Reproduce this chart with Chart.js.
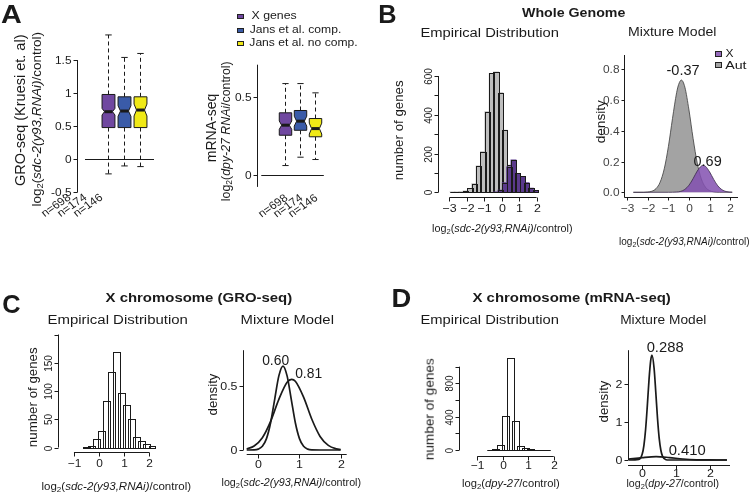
<!DOCTYPE html>
<html>
<head>
<meta charset="utf-8">
<script src="https://cdn.jsdelivr.net/npm/chart.js@4.4.1/dist/chart.umd.min.js"></script>
<style>
html, body { margin: 0; padding: 0; background: #fff; }
#fig { position: relative; width: 750px; height: 492px; overflow: hidden; background: #fff;
  font-family: "Liberation Sans", Arial, Helvetica, sans-serif; color: #1a1a1a; }
#fig canvas { position: absolute; left: 0; top: 0; }
.t { position: absolute; white-space: nowrap; line-height: 1; transform-origin: 50% 50%; }
.t sub { font-size: 0.7em; vertical-align: -0.25em; line-height: 0; }
.sq { position: absolute; border: 1px solid #222; box-sizing: border-box; }
</style>
</head>
<body>
<div id="fig">
  <canvas id="a1" width="750" height="492"></canvas>
  <canvas id="a2" width="750" height="492"></canvas>
  <canvas id="b1" width="750" height="492"></canvas>
  <canvas id="b2" width="750" height="492"></canvas>
  <canvas id="c1" width="750" height="492"></canvas>
  <canvas id="c2" width="750" height="492"></canvas>
  <canvas id="d1" width="750" height="492"></canvas>
  <canvas id="d2" width="750" height="492"></canvas>
</div>
<script>
// ---------- data ----------

// A: boxplots (X genes, Jans et al. comp., Jans et al. no comp.)
const boxGroups = ['X genes', 'Jans et al. comp.', 'Jans et al. no comp.'];
const boxCounts = ['n=698', 'n=174', 'n=146'];

const groLo = [-0.22, -0.10, -0.11];
const groQ1 = [0.48, 0.48, 0.48];
const groMed = [0.72, 0.73, 0.745];
const groQ3 = [0.98, 0.945, 0.945];
const groHi = [1.88, 1.54, 1.60];
const groNotch = [0.05, 0.08, 0.09];
const groTicks = [-0.5, 0, 0.5, 1, 1.5];
const groTickLabels = ['-0.5', '0', '0.5', '1', '1.5'];

const rnaLo = [0.058, 0.112, 0.097];
const rnaQ1 = [0.254, 0.286, 0.244];
const rnaMed = [0.319, 0.345, 0.297];
const rnaQ3 = [0.399, 0.414, 0.362];
const rnaHi = [0.588, 0.588, 0.528];
const rnaNotch = [0.027, 0.032, 0.035];
const rnaTicks = [0, 0.5];
const rnaTickLabels = ['0', '0.5'];

// B: whole genome histogram (bin centres, width 0.25)
const wgBinWidth = 0.25;
const wgBins = [-2.825, -2.575, -2.325, -2.075, -1.825, -1.575, -1.325, -1.075, -0.825, -0.575,
  -0.325, -0.075, 0.175, 0.425, 0.675, 0.925, 1.175, 1.425, 1.675, 1.925];
const wgAutCounts = [2, 2, 4, 8, 20, 45, 136, 210, 416, 613, 622, 514, 321, 140, 60, 25, 10, 5, 3, 2];
const wgXCounts = [null, null, null, null, null, null, null, null, null, null,
  2, 12, 50, 132, 168, 98, 82, 50, 22, 10];
const wgHistXTicks = [-3, -2, -1, 0, 1, 2];
const wgHistXLabels = ['\u22123', '\u22122', '\u22121', '0', '1', '2'];
const wgHistYTicks = [0, 100, 200, 300, 400, 500, 600];
const wgHistYLabels = ['0', '', '200', '', '400', '', '600'];

// B: whole genome mixture model
const wgAutX = [-2.7, -2.2, -2.0, -1.8, -1.6, -1.4, -1.2, -1.0, -0.8, -0.6, -0.5, -0.37, -0.2,
  0.0, 0.2, 0.4, 0.6, 0.8, 1.0, 1.2, 1.5, 2.1];
const wgAutDens = [0, 0, 0.002, 0.007, 0.024, 0.066, 0.153, 0.297, 0.480, 0.648, 0.702, 0.73, 0.684,
  0.535, 0.350, 0.191, 0.087, 0.033, 0.011, 0.003, 0, 0];
const wgXX = [-2.7, -1.0, -0.6, -0.4, -0.2, 0.0, 0.2, 0.4, 0.6, 0.69, 0.8, 1.0, 1.2, 1.4, 1.6, 1.8, 2.1];
const wgXDens = [0, 0, 0.002, 0.006, 0.019, 0.046, 0.089, 0.138, 0.171, 0.175, 0.169, 0.133, 0.084,
  0.042, 0.017, 0.005, 0.001];
const wgMixXTicks = [-3, -2, -1, 0, 1, 2];
const wgMixXLabels = ['\u22123', '\u22122', '\u22121', '0', '1', '2'];
const wgMixYTicks = [0, 0.2, 0.4, 0.6, 0.8];
const wgMixYLabels = ['0.0', '0.2', '0.4', '0.6', '0.8'];

// C: X chromosome GRO-seq histogram (bin width 0.2)
const groBinWidth = 0.2;
const groBins = [-0.5, -0.3, -0.1, 0.1, 0.3, 0.5, 0.7, 0.9, 1.1, 1.3, 1.5, 1.7, 1.9, 2.1];
const groCounts = [1, 3, 15, 29, 83, 134, 169, 97, 76, 50, 18, 11, 6, 2];
const groHistXTicks = [-1, 0, 1, 2];
const groHistXLabels = ['\u22121', '0', '1', '2'];
const groHistYTicks = [0, 50, 100, 150, 200];
const groHistYLabels = ['0', '50', '100', '150', ''];

// C: mixture model curves
const groNarrowX = [-0.28, -0.1, 0.0, 0.1, 0.2, 0.3, 0.4, 0.5, 0.6, 0.7, 0.8, 0.9, 1.0, 1.1, 1.2, 1.3, 1.5, 2.0];
const groNarrowDens = [0, 0.001, 0.007, 0.029, 0.089, 0.213, 0.398, 0.579, 0.656, 0.579, 0.398, 0.213,
  0.089, 0.029, 0.007, 0.001, 0, 0];
const groWideX = [-0.28, -0.1, 0.1, 0.3, 0.5, 0.7, 0.81, 0.9, 1.1, 1.3, 1.5, 1.7, 1.9, 2.0];
const groWideDens = [0.008, 0.031, 0.096, 0.224, 0.396, 0.529, 0.552, 0.537, 0.413, 0.240, 0.106,
  0.036, 0.009, 0.004];
const groMixXTicks = [0, 1, 2];
const groMixXLabels = ['0', '1', '2'];
const groMixYTicks = [0, 0.5];
const groMixYLabels = ['0', '0.5'];

// D: X chromosome mRNA-seq histogram (bin width 0.2)
const rnaBinWidth = 0.2;
const rnaBins = [-0.5, -0.3, -0.1, 0.1, 0.3, 0.5, 0.7, 0.9, 1.1, 1.3, 1.5, 1.7];
const rnaCounts = [3, 12, 60, 408, 1100, 352, 45, 22, 8, 3, 2, 2];
const rnaHistXTicks = [-1, 0, 1, 2];
const rnaHistXLabels = ['\u22121', '0', '1', '2'];
const rnaHistYTicks = [0, 200, 400, 600, 800, 1000];
const rnaHistYLabels = ['0', '', '400', '', '800', ''];

// D: mixture model curves
const rnaNarrowX = [-0.4, -0.1, 0.0, 0.05, 0.1, 0.15, 0.2, 0.25, 0.288, 0.35, 0.4, 0.45, 0.5, 0.55,
  0.6, 0.7, 0.8, 2.5];
const rnaNarrowDens = [0, 0.015, 0.156, 0.388, 0.812, 1.43, 2.117, 2.63, 2.77, 2.42, 1.79, 1.11, 0.58,
  0.257, 0.094, 0.008, 0, 0];
const rnaWideX = [-0.4, 0.0, 0.41, 0.8, 1.2, 1.6, 2.0, 2.5];
const rnaWideDens = [0.024, 0.064, 0.09, 0.064, 0.026, 0.005, 0.001, 0];
const rnaMixXTicks = [0, 1, 2];
const rnaMixXLabels = ['0', '1', '2'];
const rnaMixYTicks = [0, 1, 2];
const rnaMixYLabels = ['0', '1', '2'];

// ---------- styling ----------
const INK = '#1a1a1a';
const FONT = '"Liberation Sans", Arial, Helvetica, sans-serif';
const SX = 1.08;  // the figure is slightly wider than tall
const boxColors = ['#7048a0', '#3a5ba8', '#f0e916'];
const mixPurple = 'rgba(131, 80, 176, 0.85)';
const mixGray = '#a3a3a3';

Chart.defaults.font.family = FONT;

function drawText(ctx, s, x, y, size, rot, align, color) {
  ctx.save();
  ctx.translate(x, y);
  ctx.scale(SX, 1);
  ctx.rotate(rot || 0);
  ctx.font = size + 'px ' + FONT;
  ctx.fillStyle = color || INK;
  ctx.textAlign = align || 'center';
  ctx.textBaseline = 'middle';
  ctx.fillText(s, 0, 0);
  ctx.restore();
}

function seg(ctx, x1, y1, x2, y2) {
  ctx.beginPath();
  ctx.moveTo(x1, y1);
  ctx.lineTo(x2, y2);
  ctx.stroke();
}

// R style axes drawn from the chart's own scales
function rAxes(cfg) {
  return {
    id: 'rAxes',
    afterDraw(chart) {
      const { ctx, chartArea: ca, scales } = chart;
      ctx.save();
      ctx.lineWidth = cfg.lw || 1;
      ctx.strokeStyle = cfg.line || INK;
      const ax = cfg.x;
      if (ax) {
        const sx = scales.x;
        const ly = Math.round(ca.bottom + ax.gap) + 0.5;
        seg(ctx, sx.getPixelForValue(ax.from), ly, sx.getPixelForValue(ax.to), ly);
        ax.ticks.forEach((v, i) => {
          const px = Math.round(sx.getPixelForValue(v)) + 0.5;
          seg(ctx, px, ly, px, ly + ax.tickLen);
          if (ax.labels[i]) drawText(ctx, ax.labels[i], px, ly + ax.labelGap, ax.font, 0, 'center', cfg.text);
        });
      }
      const ay = cfg.y;
      if (ay) {
        const sy = scales.y;
        const lx = Math.round(ca.left - ay.gap) + 0.5;
        seg(ctx, lx, sy.getPixelForValue(ay.from), lx, sy.getPixelForValue(ay.to));
        ay.ticks.forEach((v, i) => {
          const py = Math.round(sy.getPixelForValue(v)) + 0.5;
          seg(ctx, lx - ay.tickLen, py, lx, py);
          if (!ay.labels[i]) return;
          if (ay.rotate) drawText(ctx, ay.labels[i], lx - ay.labelGap, py, ay.font, -Math.PI / 2, 'center', cfg.text);
          else drawText(ctx, ay.labels[i], lx - ay.labelGap, py, ay.font, 0, 'right', cfg.text);
        });
      }
      ctx.restore();
    }
  };
}

// crisp 1px outline around every histogram bar, after its own dataset is drawn
const barOutline = {
  id: 'barOutline',
  afterDatasetDraw(chart, args) {
    const meta = args.meta;
    if (meta.type !== 'bar') return;
    const ctx = chart.ctx;
    ctx.save();
    ctx.strokeStyle = INK;
    ctx.lineWidth = 1;
    meta.data.forEach((el, i) => {
      const v = meta._parsed[i] && meta._parsed[i].y;
      if (v === null || v === undefined || isNaN(v)) return;
      const l = Math.round(el.x - el.width / 2) + 0.5;
      const r = Math.round(el.x + el.width / 2) + 0.5;
      const t = Math.round(el.y) + 0.5;
      const b = Math.round(el.base) + 0.5;
      ctx.strokeRect(l, t, r - l, b - t);
    });
    ctx.restore();
  }
};

// notched boxplots, positioned at x = 1, 2, 3
function notchedBoxes(b) {
  return {
    id: 'notchedBoxes',
    afterDatasetsDraw(chart) {
      const { ctx, chartArea: ca, scales: { x, y } } = chart;
      ctx.save();
      ctx.strokeStyle = INK;
      ctx.lineWidth = 1;
      const y0 = Math.round(y.getPixelForValue(0)) + 0.5;
      seg(ctx, x.getPixelForValue(b.zero[0]), y0, x.getPixelForValue(b.zero[1]), y0);
      b.q1.forEach((q1, i) => {
        const p = i + 1;
        const cx = Math.round(x.getPixelForValue(p)) + 0.5;
        const hw = (x.getPixelForValue(p + b.width / 2) - x.getPixelForValue(p - b.width / 2)) / 2;
        const inner = hw * 0.62;
        const yQ1 = y.getPixelForValue(q1);
        const yQ3 = y.getPixelForValue(b.q3[i]);
        const yMed = y.getPixelForValue(b.med[i]);
        const yNl = y.getPixelForValue(b.med[i] - b.notch[i]);
        const yNh = y.getPixelForValue(b.med[i] + b.notch[i]);
        const yHi = y.getPixelForValue(b.hi[i]);
        const yLo = y.getPixelForValue(b.lo[i]);
        ctx.setLineDash([4, 3]);
        seg(ctx, cx, yQ3, cx, yHi);
        seg(ctx, cx, yQ1, cx, yLo);
        ctx.setLineDash([]);
        seg(ctx, cx - hw / 2, yHi, cx + hw / 2, yHi);
        seg(ctx, cx - hw / 2, yLo, cx + hw / 2, yLo);
        ctx.beginPath();
        ctx.moveTo(cx - hw, yQ3);
        ctx.lineTo(cx + hw, yQ3);
        ctx.lineTo(cx + hw, yNh);
        ctx.lineTo(cx + inner, yMed);
        ctx.lineTo(cx + hw, yNl);
        ctx.lineTo(cx + hw, yQ1);
        ctx.lineTo(cx - hw, yQ1);
        ctx.lineTo(cx - hw, yNl);
        ctx.lineTo(cx - inner, yMed);
        ctx.lineTo(cx - hw, yNh);
        ctx.closePath();
        ctx.fillStyle = boxColors[i];
        ctx.fill();
        ctx.stroke();
        ctx.lineWidth = 3;
        seg(ctx, cx - inner, yMed, cx + inner, yMed);
        ctx.lineWidth = 1;
        drawText(ctx, boxCounts[i], cx + b.labDx, ca.bottom + b.labDy, 11, -0.64, 'right');
      });
      ctx.restore();
    }
  };
}

// chart areas in page pixels (all canvases cover the whole figure)
function pad(L, T, R, B) {
  return { left: L, top: T, right: 750 - R, bottom: 492 - B };
}

function baseOpts(padding, xr, yr) {
  return {
    responsive: false,
    animation: false,
    devicePixelRatio: 1,
    layout: { padding },
    plugins: { legend: { display: false }, tooltip: { enabled: false } },
    scales: {
      x: { type: 'linear', display: false, min: xr[0], max: xr[1], ticks: { stepSize: 1, includeBounds: false } },
      y: { type: 'linear', display: false, min: yr[0], max: yr[1], ticks: { includeBounds: false } }
    }
  };
}

// bar thickness = one bin, converted with the same padding / range used for the x scale
function binPx(padding, xr, binWidth) {
  return binWidth * (750 - padding.left - padding.right) / (xr[1] - xr[0]);
}

function histSet(centers, counts, fill, order, thick) {
  return {
    data: centers.map((x, i) => ({ x, y: counts[i] })),
    backgroundColor: fill,
    borderWidth: 0,
    barThickness: thick,
    grouped: false,
    order
  };
}

function curve(xs, ys, color, width, fill, order) {
  return {
    data: xs.map((x, i) => ({ x, y: ys[i] })),
    borderColor: color,
    borderWidth: width,
    backgroundColor: fill || 'rgba(0,0,0,0)',
    fill: fill ? 'origin' : false,
    pointRadius: 0,
    cubicInterpolationMode: 'monotone',
    clip: false,
    order
  };
}

function boxData(q1, q3) {
  return [{
    data: q1.map((q, i) => ({ x: i + 1, y: [q, q3[i]] })),
    backgroundColor: 'rgba(0,0,0,0)',
    borderWidth: 0,
    grouped: false
  }];
}

// ---------- A: GRO-seq boxplot ----------
new Chart(document.getElementById('a1'), {
  type: 'bar',
  data: { datasets: boxData(groQ1, groQ3) },
  options: baseOpts(pad(77, 27, 165, 192.4), [-0.223, 3.87], [-0.5, 2.0]),
  plugins: [
    notchedBoxes({ q1: groQ1, q3: groQ3, med: groMed, lo: groLo, hi: groHi, notch: groNotch,
      width: 0.8, zero: [-0.41, 3.87], labDx: -39, labDy: 4 }),
    rAxes({ y: { gap: 0.3, from: -0.5, to: 1.5, ticks: groTicks, labels: groTickLabels,
      tickLen: 4, labelGap: 6, font: 11 } })
  ]
});

// ---------- A: mRNA-seq boxplot ----------
new Chart(document.getElementById('a2'), {
  type: 'bar',
  data: { datasets: boxData(rnaQ1, rnaQ3) },
  options: baseOpts(pad(257, 64.7, 335, 186.9), [-0.235, 3.665], [-0.08, 0.71]),
  plugins: [
    notchedBoxes({ q1: rnaQ1, q3: rnaQ3, med: rnaMed, lo: rnaLo, hi: rnaHi, notch: rnaNotch,
      width: 0.83, zero: [-0.6, 3.57], labDx: 1, labDy: 10 }),
    rAxes({ y: { gap: 0.3, from: -0.08, to: 0.71, ticks: rnaTicks, labels: rnaTickLabels,
      tickLen: 4, labelGap: 6, font: 11 } })
  ]
});

// ---------- B: whole genome histogram ----------
const b1Pad = pad(438.5, 66.3, 549.3, 192.3), b1X = [-3.1, 2.2];
const b1Bar = binPx(b1Pad, b1X, wgBinWidth);
new Chart(document.getElementById('b1'), {
  type: 'bar',
  data: { datasets: [
    histSet(wgBins, wgXCounts, '#5b3a8c', 1, b1Bar),
    histSet(wgBins, wgAutCounts, '#bebebe', 2, b1Bar)
  ] },
  options: baseOpts(b1Pad, b1X, [0, 650]),
  plugins: [barOutline, rAxes({
    x: { gap: 4.4, from: -3, to: 2, ticks: wgHistXTicks, labels: wgHistXLabels, tickLen: 4, labelGap: 11, font: 11.5 },
    y: { gap: 0.8, from: 0, to: 600, ticks: wgHistYTicks, labels: wgHistYLabels, rotate: true, tickLen: 4, labelGap: 9.5, font: 10 }
  })]
});

// ---------- B: whole genome mixture model ----------
new Chart(document.getElementById('b2'), {
  type: 'line',
  data: { datasets: [
    curve(wgXX, wgXDens, '#3a2a4a', 0.8, mixPurple, 1),
    curve(wgAutX, wgAutDens, '#3a3a3a', 0.8, mixGray, 2)
  ] },
  options: baseOpts(pad(624.3, 55, 738, 197.3), [-3.14, 2.38], [-0.0325, 0.893]),
  plugins: [rAxes({
    text: '#444',
    x: { gap: 0, from: -3.14, to: 2.38, ticks: wgMixXTicks, labels: wgMixXLabels, tickLen: 3, labelGap: 11, font: 11 },
    y: { gap: 0, from: -0.0325, to: 0.893, ticks: wgMixYTicks, labels: wgMixYLabels, tickLen: 3, labelGap: 5, font: 11 }
  })]
});

// ---------- C: GRO-seq X histogram ----------
const c1Pad = pad(57.8, 331.7, 171.05, 447.5), c1X = [-1.08, 2.3];
new Chart(document.getElementById('c1'), {
  type: 'bar',
  data: { datasets: [histSet(groBins, groCounts, '#ffffff', 1, binPx(c1Pad, c1X, groBinWidth))] },
  options: baseOpts(c1Pad, c1X, [0, 205]),
  plugins: [barOutline, rAxes({
    x: { gap: 4.2, from: -1, to: 2, ticks: groHistXTicks, labels: groHistXLabels, tickLen: 4, labelGap: 11.5, font: 11 },
    y: { gap: 0, from: 0, to: 200, ticks: groHistYTicks, labels: groHistYLabels, rotate: true, tickLen: 4, labelGap: 9.5, font: 10 }
  })]
});

// ---------- C: GRO-seq mixture model ----------
new Chart(document.getElementById('c2'), {
  type: 'line',
  data: { datasets: [
    curve(groNarrowX, groNarrowDens, INK, 1.7, null, 1),
    curve(groWideX, groWideDens, INK, 1.7, null, 2)
  ] },
  options: baseOpts(pad(246.7, 350.2, 346.7, 450), [-0.28, 2.146], [0, 0.78]),
  plugins: [rAxes({
    x: { gap: 4, from: -0.28, to: 2.146, ticks: groMixXTicks, labels: groMixXLabels, tickLen: 4, labelGap: 10, font: 11.5 },
    y: { gap: 3.4, from: 0, to: 0.78, ticks: groMixYTicks, labels: groMixYLabels, tickLen: 4, labelGap: 6, font: 11.5 }
  })]
});

// ---------- D: mRNA-seq X histogram ----------
const d1Pad = pad(459.3, 362.5, 573.1, 450), d1X = [-1.147, 2.2];
new Chart(document.getElementById('d1'), {
  type: 'bar',
  data: { datasets: [histSet(rnaBins, rnaCounts, '#ffffff', 1, binPx(d1Pad, d1X, rnaBinWidth))] },
  options: baseOpts(d1Pad, d1X, [0, 1050]),
  plugins: [barOutline, rAxes({
    x: { gap: 6, from: -1, to: 2, ticks: rnaHistXTicks, labels: rnaHistXLabels, tickLen: 4, labelGap: 9.5, font: 11 },
    y: { gap: 0, from: 0, to: 1000, ticks: rnaHistYTicks, labels: rnaHistYLabels, rotate: true, tickLen: 4, labelGap: 9, font: 9.5 }
  })]
});

// ---------- D: mRNA-seq mixture model ----------
new Chart(document.getElementById('d2'), {
  type: 'line',
  data: { datasets: [
    curve(rnaNarrowX, rnaNarrowDens, INK, 1.7, null, 1),
    curve(rnaWideX, rnaWideDens, INK, 1.7, null, 2)
  ] },
  options: baseOpts(pad(628, 350.2, 730, 460), [-0.42, 2.59], [0, 2.9]),
  plugins: [rAxes({
    x: { gap: 5, from: -0.42, to: 2.59, ticks: rnaMixXTicks, labels: rnaMixXLabels, tickLen: 4, labelGap: 8.5, font: 11.5 },
    y: { gap: 0.3, from: 0, to: 2.9, ticks: rnaMixYTicks, labels: rnaMixYLabels, tickLen: 4, labelGap: 6, font: 11.5 }
  })]
});

// ---------- text (centre x, centre y, length (0 = natural), font size) ----------
const sdcTitle = 'log<sub>2</sub>(<i>sdc-2(y93,RNAi)</i>/control)';
const dpyTitle = 'log<sub>2</sub>(<i>dpy-27</i>/control)';
const texts = [
  { h: 'A', x: 11, y: 14, w: 21, s: 26, b: 1 },
  { h: 'B', x: 387.5, y: 14, w: 18.5, s: 26, b: 1 },
  { h: 'C', x: 11, y: 304, w: 18.5, s: 26, b: 1 },
  { h: 'D', x: 401.7, y: 298, w: 20, s: 26, b: 1 },
  { h: boxGroups[0], x: 274.2, y: 16, w: 45, s: 11.5 },
  { h: boxGroups[1], x: 295.2, y: 30, w: 91.7, s: 11.5 },
  { h: boxGroups[2], x: 303.5, y: 43.3, w: 108.3, s: 11.5 },
  { h: 'GRO-seq (Kruesi et. al)', x: 20, y: 110, w: 0, s: 14.5, r: -90 },
  { h: sdcTitle, x: 37.5, y: 119, w: 175, s: 12.5, r: -90 },
  { h: 'mRNA-seq', x: 211, y: 128, w: 0, s: 14, r: -90 },
  { h: 'log<sub>2</sub>(<i>dpy-27 RNAi</i>/control)', x: 226, y: 131, w: 140, s: 12.5, r: -90 },
  { h: 'Whole Genome', x: 573.5, y: 12.7, w: 103, s: 12, b: 1 },
  { h: 'Empirical Distribution', x: 489, y: 33, w: 138, s: 12.5 },
  { h: 'Mixture Model', x: 672.5, y: 32, w: 89, s: 12.5 },
  { h: 'number of genes', x: 399, y: 130, w: 100, s: 12.5, r: -90 },
  { h: sdcTitle, x: 502.8, y: 228.3, w: 141, s: 10.5 },
  { h: 'density', x: 600, y: 121.7, w: 43.3, s: 13.5, r: -90 },
  { h: sdcTitle, x: 684, y: 241.7, w: 131, s: 10.5 },
  { h: '-0.37', x: 682.5, y: 69, w: 33, s: 15 },
  { h: '0.69', x: 707, y: 160, w: 28, s: 15 },
  { h: 'X', x: 729, y: 53.7, w: 8, s: 10.5 },
  { h: 'Aut', x: 735.8, y: 65, w: 21.7, s: 10.5 },
  { h: 'X chromosome (GRO-seq)', x: 198.5, y: 298, w: 187, s: 12.3, b: 1 },
  { h: 'Empirical Distribution', x: 117, y: 320.8, w: 140, s: 12.5 },
  { h: 'Mixture Model', x: 287, y: 320.8, w: 94, s: 12.5 },
  { h: 'number of genes', x: 33, y: 397, w: 100, s: 12.5, r: -90 },
  { h: sdcTitle, x: 116.7, y: 486.7, w: 150, s: 10.5 },
  { h: 'density', x: 212.3, y: 394, w: 41.7, s: 13, r: -90 },
  { h: sdcTitle, x: 291.7, y: 482, w: 140, s: 10.5 },
  { h: '0.60', x: 275, y: 360, w: 26.7, s: 14 },
  { h: '0.81', x: 308.3, y: 373, w: 26.7, s: 14 },
  { h: 'X chromosome (mRNA-seq)', x: 571, y: 298, w: 198, s: 12.3, b: 1 },
  { h: 'Empirical Distribution', x: 489, y: 320.8, w: 138, s: 12.5 },
  { h: 'Mixture Model', x: 663.3, y: 320.8, w: 86.7, s: 12.5 },
  { h: 'number of genes', x: 430, y: 409, w: 102, s: 12.5, r: -90 },
  { h: dpyTitle, x: 510.8, y: 483.3, w: 98, s: 10.5 },
  { h: 'density', x: 603.3, y: 401.7, w: 41.7, s: 13, r: -90 },
  { h: dpyTitle, x: 673.3, y: 483.3, w: 93, s: 10.5 },
  { h: '0.288', x: 665, y: 347.5, w: 36.7, s: 14.5 },
  { h: '0.410', x: 686.7, y: 450, w: 36.7, s: 14.5 }
];

const fig = document.getElementById('fig');
texts.forEach((t) => {
  const el = document.createElement('div');
  el.className = 't';
  el.innerHTML = t.h;
  el.style.fontSize = t.s + 'px';
  if (t.b) el.style.fontWeight = 'bold';
  fig.appendChild(el);
  const w = el.offsetWidth, h = el.offsetHeight;
  el.style.left = (t.x - w / 2) + 'px';
  el.style.top = (t.y - h / 2) + 'px';
  const k = t.w ? t.w / w : 1;
  el.style.transform = 'rotate(' + (t.r || 0) + 'deg) scaleX(' + k + ')';
});

// legend swatches
const swatches = [
  [237, 13.8, 6.5, 5, boxColors[0]],
  [237, 27.7, 6.5, 5, boxColors[1]],
  [237, 40.8, 6.5, 5, boxColors[2]],
  [715, 50.5, 7, 6, mixPurple],
  [715, 62, 7, 6, mixGray]
];
swatches.forEach(([x, y, w, h, c]) => {
  const el = document.createElement('div');
  el.className = 'sq';
  el.style.left = x + 'px';
  el.style.top = y + 'px';
  el.style.width = w + 'px';
  el.style.height = h + 'px';
  el.style.background = c;
  fig.appendChild(el);
});
</script>
</body>
</html>
